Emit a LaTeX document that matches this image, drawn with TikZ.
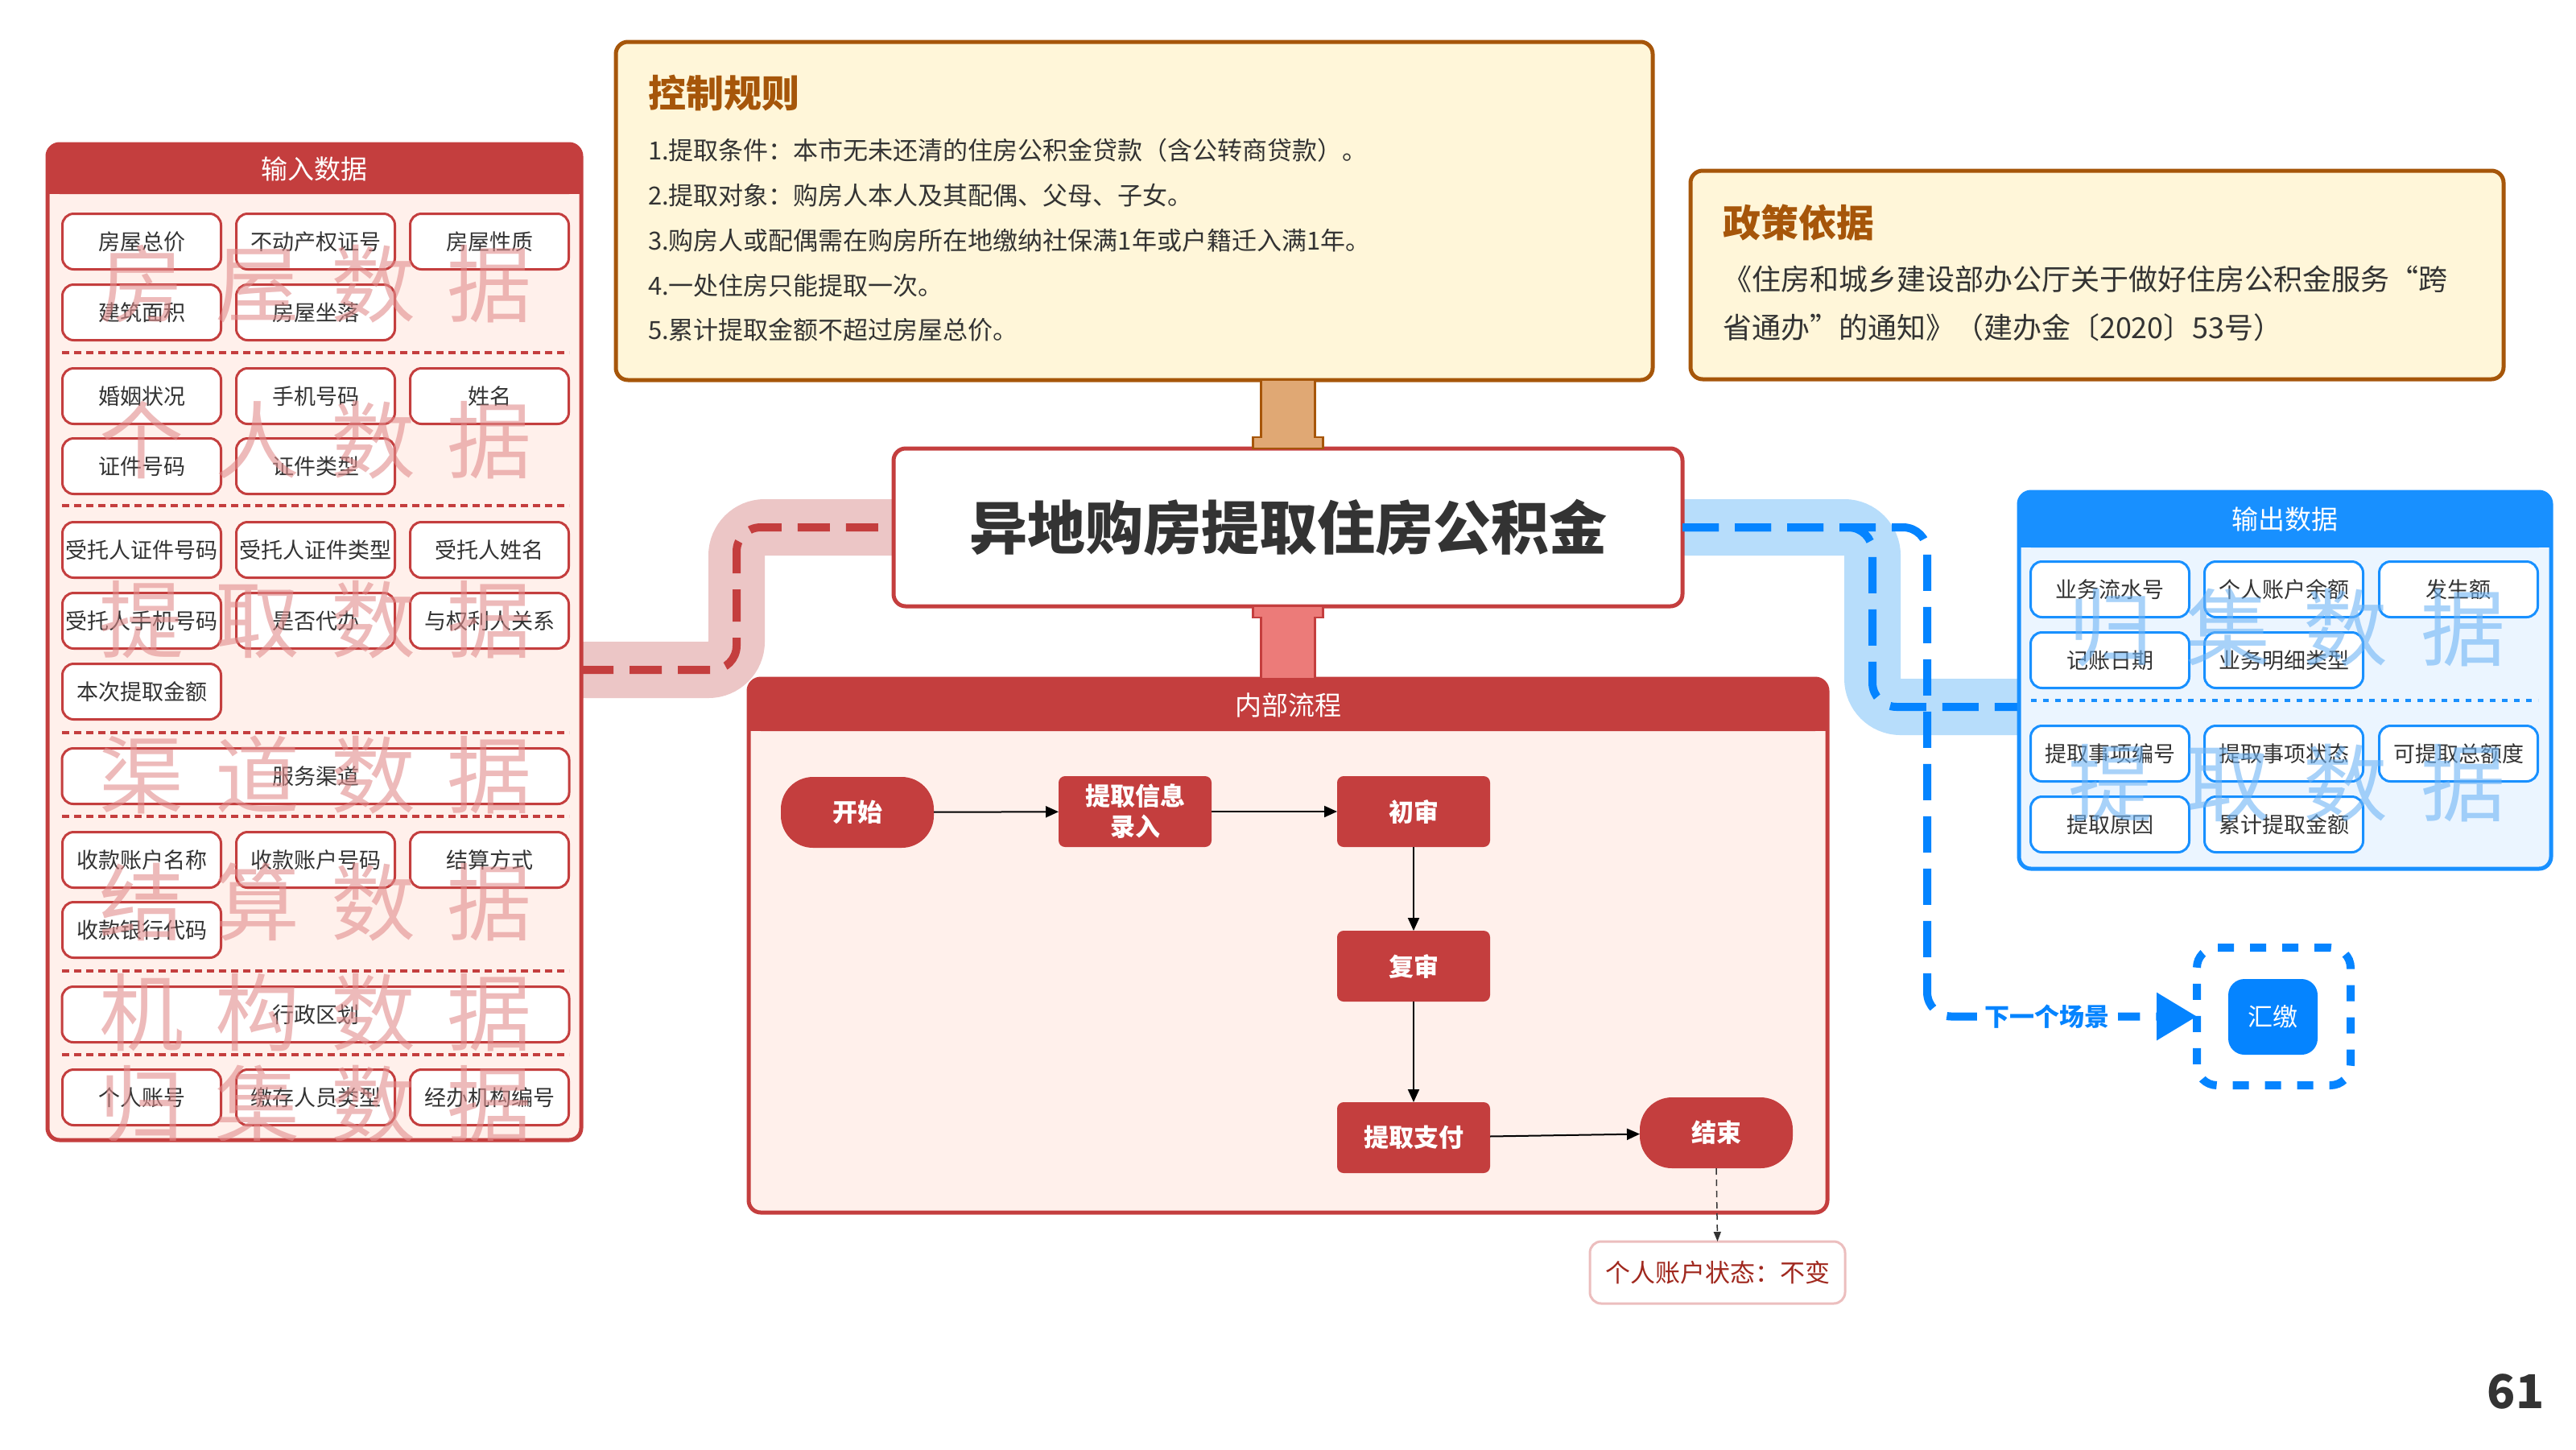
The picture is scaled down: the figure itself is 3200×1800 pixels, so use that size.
\documentclass[tikz,border=0pt]{standalone}
\usepackage{fontspec}
\setmainfont{Noto Sans CJK SC}
\usetikzlibrary{arrows.meta,calc}
\definecolor{redmain}{RGB}{196,62,62}
\definecolor{redbody}{RGB}{255,240,235}
\definecolor{redband}{RGB}{236,198,198}
\definecolor{wmred}{RGB}{225,140,140}
\definecolor{bluemain}{RGB}{24,144,255}
\definecolor{bluedash}{RGB}{5,132,255}
\definecolor{bluebody}{RGB}{235,245,255}
\definecolor{blueband}{RGB}{183,221,251}
\definecolor{wmblue}{RGB}{110,180,245}
\definecolor{cbrown}{RGB}{166,86,10}
\definecolor{cream}{RGB}{255,246,217}
\definecolor{ctan}{RGB}{224,168,116}
\definecolor{pinkbar}{RGB}{236,123,121}
\definecolor{txt}{RGB}{51,51,51}
\definecolor{notetxt}{RGB}{160,40,30}
\definecolor{noteborder}{RGB}{236,190,190}
\newcommand{\fsz}[2]{\fontsize{#1}{#2}\selectfont}
\pgfdeclarelayer{bg}
\pgfdeclarelayer{paper}
\pgfsetlayers{paper,bg,main}
\tikzset{
  every node/.style={inner sep=0pt, outer sep=0pt},
  icell/.style={draw=redmain, line width=3pt, fill=white, rounded corners=14pt,
    minimum width=197pt, minimum height=69pt, text=txt, font=\fsz{27}{32}},
  iwide/.style={icell, minimum width=630pt},
  ocell/.style={icell, draw=bluemain},
  wmr/.style={text=wmred, text opacity=0.6, font=\fsz{105}{110}},
  wmb/.style={text=wmblue, text opacity=0.6, font=\fsz{105}{110}},
  isep/.style={redmain, line width=3.5pt, dash pattern=on 9pt off 6pt},
  osep/.style={bluemain, line width=4pt, dash pattern=on 7pt off 8pt},
  hdrtext/.style={text=white, font=\fsz{33}{38}},
  flowbox/.style={fill=redmain, text=white, font=\bfseries\fsz{31}{38},
    minimum width=190pt, minimum height=88pt, rounded corners=8pt, align=center},
  termbox/.style={flowbox, rounded corners=40pt},
  farrow/.style={-{Triangle[length=16pt,width=14pt]}, line width=2pt, black},
  rtitle/.style={anchor=west, text=cbrown, font=\bfseries\fsz{47}{52}},
  rline/.style={anchor=west, text=txt, font=\fsz{31}{36}},
  pline/.style={anchor=west, text=txt, font=\fsz{36}{40}},
  rband/.style={redband, line width=70pt, rounded corners=35pt},
  rdash/.style={redmain, line width=10pt, dash pattern=on 40pt off 20pt, rounded corners=30pt},
  bband/.style={blueband, line width=70pt, rounded corners=35pt},
  bdash/.style={bluedash, line width=10pt, dash pattern=on 45pt off 20pt, rounded corners=30pt},
}
\begin{document}
\begin{tikzpicture}[x=1pt,y=-1pt]
\useasboundingbox (0,0) rectangle (3200,1800);
\begin{pgfonlayer}{paper}
\fill[white] (0,0) rectangle (3200,1800);
\end{pgfonlayer}

% ---------------- control rules box
\node[draw=cbrown, line width=5pt, fill=cream, rounded corners=15pt,
  minimum width=1288pt, minimum height=420pt] (rules) at (1409,262) {};
\node[rtitle] (rt) at (805,116) {控制规则};
\node[rline] (r1) at (805,187) {1.提取条件：本市无未还清的住房公积金贷款（含公转商贷款）。};
\node[rline] (r2) at (805,243) {2.提取对象：购房人本人及其配偶、父母、子女。};
\node[rline] (r3) at (805,299) {3.购房人或配偶需在购房所在地缴纳社保满1年或户籍迁入满1年。};
\node[rline] (r4) at (805,355) {4.一处住房只能提取一次。};
\node[rline] (r5) at (805,410) {5.累计提取金额不超过房屋总价。};

% ---------------- policy box
\node[draw=cbrown, line width=5pt, fill=cream, rounded corners=15pt,
  minimum width=1010pt, minimum height=259pt] (policy) at (2605,341.5) {};
\node[rtitle] (pt) at (2140,277) {政策依据};
\node[pline] (p1) at (2140,347) {《住房和城乡建设部办公厅关于做好住房公积金服务“跨};
\node[pline] (p2) at (2140,407) {省通办”的通知》（建办金〔2020〕53号）};

% ---------------- central title
\node[draw=redmain, line width=5pt, fill=white, rounded corners=15pt,
  minimum width=980pt, minimum height=196pt, text=txt, font=\bfseries\fsz{72}{80}]
  (title) at (1600,655) {异地购房提取住房公积金};

% ---------------- input panel
\node[draw=redmain, line width=5pt, fill=redbody, rounded corners=15pt,
  minimum width=663pt, minimum height=1237pt] (inp) at (390.5,797.5) {};
\fill[redmain, rounded corners=15pt] (59,179) rectangle (722,241);
\fill[redmain] (59,215) rectangle (722,241);
\node[hdrtext] (inhdr) at (390.5,210) {输入数据};

\node[icell] (i1) at (176,300) {房屋总价};
\node[icell] (i2) at (392,300) {不动产权证号};
\node[icell] (i3) at (608,300) {房屋性质};
\node[icell] (i4) at (176,388) {建筑面积};
\node[icell] (i5) at (392,388) {房屋坐落};
\draw[isep] (77,438) -- (707,438);
\node[icell] (i6) at (176,492) {婚姻状况};
\node[icell] (i7) at (392,492) {手机号码};
\node[icell] (i8) at (608,492) {姓名};
\node[icell] (i9) at (176,579) {证件号码};
\node[icell] (i10) at (392,579) {证件类型};
\draw[isep] (77,628) -- (707,628);
\node[icell] (i11) at (176,683) {受托人证件号码};
\node[icell] (i12) at (392,683) {受托人证件类型};
\node[icell] (i13) at (608,683) {受托人姓名};
\node[icell] (i14) at (176,771) {受托人手机号码};
\node[icell] (i15) at (392,771) {是否代办};
\node[icell] (i16) at (608,771) {与权利人关系};
\node[icell] (i17) at (176,859) {本次提取金额};
\draw[isep] (77,910) -- (707,910);
\node[iwide] (i18) at (392,964) {服务渠道};
\draw[isep] (77,1014) -- (707,1014);
\node[icell] (i19) at (176,1068) {收款账户名称};
\node[icell] (i20) at (392,1068) {收款账户号码};
\node[icell] (i21) at (608,1068) {结算方式};
\node[icell] (i22) at (176,1155) {收款银行代码};
\draw[isep] (77,1206) -- (707,1206);
\node[iwide] (i23) at (392,1260) {行政区划};
\draw[isep] (77,1310) -- (707,1310);
\node[icell] (i24) at (176,1363) {个人账号};
\node[icell] (i25) at (392,1363) {缴存人员类型};
\node[icell] (i26) at (608,1363) {经办机构编号};

\begin{scope}
\clip[rounded corners=15pt] (59,179) rectangle (722,1416);
\node[wmr] (w1) at (392,353) {房\hspace{39pt}屋\hspace{39pt}数\hspace{39pt}据};
\node[wmr] (w2) at (392,547) {个\hspace{39pt}人\hspace{39pt}数\hspace{39pt}据};
\node[wmr] (w3) at (392,770) {提\hspace{39pt}取\hspace{39pt}数\hspace{39pt}据};
\node[wmr] (w4) at (392,963) {渠\hspace{39pt}道\hspace{39pt}数\hspace{39pt}据};
\node[wmr] (w5) at (392,1120) {结\hspace{39pt}算\hspace{39pt}数\hspace{39pt}据};
\node[wmr] (w6) at (392,1258) {机\hspace{39pt}构\hspace{39pt}数\hspace{39pt}据};
\node[wmr] (w7) at (392,1372) {归\hspace{39pt}集\hspace{39pt}数\hspace{39pt}据};
\end{scope}

% ---------------- output panel
\node[draw=bluemain, line width=5pt, fill=bluebody, rounded corners=15pt,
  minimum width=661pt, minimum height=468pt] (outp) at (2838.5,845) {};
\fill[bluemain, rounded corners=15pt] (2508,611) rectangle (3169,680);
\fill[bluemain] (2508,650) rectangle (3169,680);
\node[hdrtext] (outhdr) at (2838.5,645) {输出数据};
\node[ocell] (o1) at (2621,732) {业务流水号};
\node[ocell] (o2) at (2837,732) {个人账户余额};
\node[ocell] (o3) at (3054,732) {发生额};
\node[ocell] (o4) at (2621,820) {记账日期};
\node[ocell] (o5) at (2837,820) {业务明细类型};
\draw[osep] (2523,870) -- (3153,870);
\node[ocell] (o6) at (2621,936) {提取事项编号};
\node[ocell] (o7) at (2837,936) {提取事项状态};
\node[ocell] (o8) at (3054,936) {可提取总额度};
\node[ocell] (o9) at (2621,1024) {提取原因};
\node[ocell] (o10) at (2837,1024) {累计提取金额};
\node[wmb] (wo1) at (2841,780) {归\hspace{41pt}集\hspace{41pt}数\hspace{41pt}据};
\node[wmb] (wo2) at (2841,973) {提\hspace{41pt}取\hspace{41pt}数\hspace{41pt}据};

% ---------------- internal process panel
\node[draw=redmain, line width=5pt, fill=redbody, rounded corners=15pt,
  minimum width=1340pt, minimum height=663pt] (proc) at (1600,1174.5) {};
\fill[redmain, rounded corners=15pt] (930,843) rectangle (2270,908);
\fill[redmain] (930,880) rectangle (2270,908);
\node[hdrtext] (prochdr) at (1600,876) {内部流程};

\node[termbox] (ks) at (1065,1009) {开始};
\node[flowbox] (lr) at (1410,1008) {提取信息\\录入};
\node[flowbox] (cs) at (1756,1008) {初审};
\node[flowbox] (fs) at (1756,1200) {复审};
\node[flowbox] (zf) at (1756,1413) {提取支付};
\node[termbox] (js) at (2132,1407) {结束};
\draw[farrow] (ks) -- (lr);
\draw[farrow] (lr) -- (cs);
\draw[farrow] (cs) -- (fs);
\draw[farrow] (fs) -- (zf);
\draw[farrow] (zf) -- (js);

\node[draw=noteborder, line width=3pt, fill=white, rounded corners=14pt,
  minimum width=317pt, minimum height=77pt, text=notetxt, font=\fsz{31}{36}]
  (note) at (2133.5,1580.5) {个人账户状态：不变};
\draw[txt, line width=1.5pt, dash pattern=on 8pt off 6pt,
  -{Triangle[length=12pt,width=9pt]}] (js.south) -- (note.north);

% ---------------- bars between title and boxes
\draw[fill=ctan, draw=cbrown, line width=2.5pt] (title.north) ++(-43.5,0)
  -- ++(0,-14) -- ++(10,0) -- ++(0,-71) -- ++(67,0) -- ++(0,71) -- ++(10,0) -- ++(0,14) -- cycle;
\draw[fill=pinkbar, draw=redmain, line width=2.5pt] (title.south) ++(-43.5,0)
  -- ++(0,14) -- ++(10,0) -- ++(0,76) -- ++(67,0) -- ++(0,-76) -- ++(10,0) -- ++(0,-14) -- cycle;

% ---------------- next scene group
\node[draw=bluedash, line width=10pt, dash pattern=on 20pt off 20pt, rounded corners=25pt,
  minimum width=191pt, minimum height=171pt] (hj) at (2824.5,1262.5) {};
\node[fill=bluedash, rounded corners=20pt, minimum width=111pt, minimum height=94pt,
  text=white, font=\fsz{31}{36}] (hjin) at (2823.5,1263) {汇缴};

% ---------------- connectors (behind)
\begin{pgfonlayer}{bg}
\draw[rband] (inp.east) ++(0,34.5) -- ++(193,0) |- (title.west);
\draw[rdash] (inp.east) ++(0,34.5) -- ++(193,0) |- (title.west);
\draw[bband] (title.east) -- ++(236,0) |- ($(outp.west)+(0,33)$);
\draw[bdash] (title.east) -- ++(236,0) |- ($(outp.west)+(0,33)$);
\end{pgfonlayer}
\draw[bdash, -{Triangle[length=50pt,width=57pt]}] (title.east) -- ++(304,0) |- (hj.west);
\node[fill=white, inner xsep=10pt, inner ysep=4pt, text=bluedash, font=\bfseries\fsz{31}{36}]
  (nextlbl) at (2543,1263) {下一个场景};

% ---------------- page number
\node[text=txt, font=\bfseries\fsz{58}{60}] (pg) at (3125,1728) {61};
\end{tikzpicture}
\end{document}
